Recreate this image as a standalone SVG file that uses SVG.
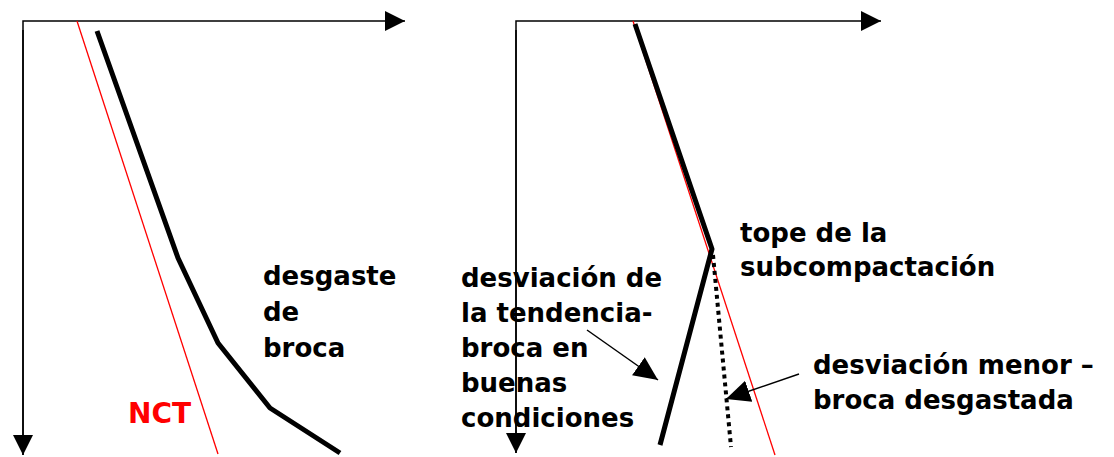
<svg xmlns="http://www.w3.org/2000/svg" width="1114" height="457" viewBox="0 0 1114 457">
<style>
.axis{stroke:#000;stroke-width:1.5;fill:none}
.nct{stroke:#ff0000;stroke-width:1.3;fill:none}
.curve{stroke:#000;stroke-width:5;fill:none;stroke-linejoin:round}
.dots{stroke:#000;stroke-width:4;fill:none;stroke-dasharray:4 4}
.ptr{stroke:#000;stroke-width:1.5;fill:none}
.lbl{font-family:"DejaVu Sans",Verdana,sans-serif;font-weight:bold;font-size:26px;fill:#000}
.red{fill:#ff0000;font-size:28px}
</style>
<defs>
<marker id="ah" markerUnits="userSpaceOnUse" markerWidth="22" markerHeight="22" viewBox="0 0 22 22" refX="20" refY="11" orient="auto">
<path d="M0,1 L20,11 L0,21 Z" fill="#000"/>
</marker>
<marker id="ptrh" markerUnits="userSpaceOnUse" markerWidth="26" markerHeight="24" viewBox="0 0 26 24" refX="24" refY="12" orient="auto">
<path d="M0,1 L24,12 L0,23 Z" fill="#000"/>
</marker>
</defs>
<g id="connectors">
<path class="axis" d="M23,455 L23,21 L405,21" marker-end="url(#ah)"/>
<line class="axis" x1="23" y1="30" x2="23" y2="455" marker-end="url(#ah)"/>
<path class="axis" d="M516,453 L516,21 L881,21" marker-end="url(#ah)"/>
<line class="axis" x1="516" y1="30" x2="516" y2="453" marker-end="url(#ah)"/>
<line class="nct" x1="77" y1="21" x2="218" y2="454"/>
<polyline class="curve" points="97,31 178,258 218,343 270,408 340,453"/>
<line class="nct" x1="633" y1="21" x2="775" y2="455"/>
<polyline class="curve" points="635,24 712,249 660,445"/>
<line class="dots" x1="713" y1="255" x2="731" y2="447"/>
<line class="ptr" x1="587" y1="330" x2="658" y2="380" marker-end="url(#ptrh)"/>
<line class="ptr" x1="799" y1="374" x2="726" y2="399" marker-end="url(#ptrh)"/>
</g>
<g id="label-nct"><text class="lbl red" x="128" y="423">NCT</text></g>
<g id="label-desgaste">
<text class="lbl" x="263" y="285">desgaste</text>
<text class="lbl" x="263" y="321">de</text>
<text class="lbl" x="263" y="357">broca</text>
</g>
<g id="label-tope">
<text class="lbl" x="740" y="242">tope de la</text>
<text class="lbl" x="740" y="276">subcompactación</text>
</g>
<g id="label-desviacion">
<text class="lbl" x="461" y="287">desviación de</text>
<text class="lbl" x="461" y="322">la tendencia-</text>
<text class="lbl" x="461" y="357">broca en</text>
<text class="lbl" x="461" y="392">buenas</text>
<text class="lbl" x="461" y="427">condiciones</text>
</g>
<g id="label-menor">
<text class="lbl" x="813" y="374">desviación menor –</text>
<text class="lbl" x="813" y="409">broca desgastada</text>
</g>
</svg>
